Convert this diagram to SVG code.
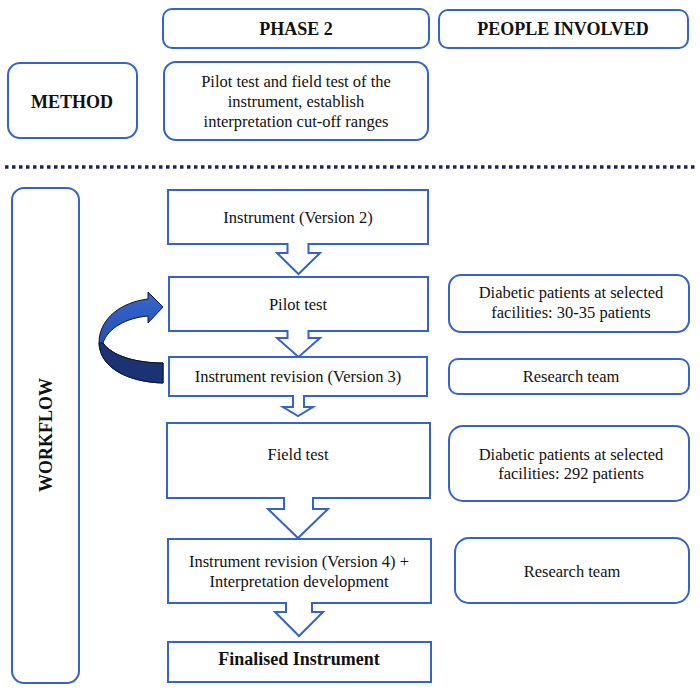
<svg xmlns="http://www.w3.org/2000/svg" width="700" height="691" viewBox="0 0 700 691">
<defs>
<style>
.rb{fill:#fff;stroke:#3464c6;stroke-width:2}
.sb{fill:#fff;stroke:#3464c6;stroke-width:2}
text{font-family:'Liberation Serif','DejaVu Serif',serif}
.t{font-size:16.5px;fill:#111;text-anchor:middle}
.b{font-size:18px;font-weight:bold;fill:#111;text-anchor:middle}
.ar{fill:#fff;stroke:#3464c6;stroke-width:2;stroke-linejoin:miter}
</style>
<linearGradient id="cg" x1="0" y1="0" x2="0" y2="1">
<stop offset="0" stop-color="#3566cf"/>
<stop offset="1" stop-color="#1f3f95"/>
</linearGradient>
</defs>
<rect width="700" height="691" fill="#fff"/>

<g id="phase2"><rect class="rb" x="163" y="9" width="266" height="39" rx="9"/><text class="b" x="296" y="35" font-family="Liberation Serif, serif">PHASE 2</text></g>
<g id="people"><rect class="rb" x="439" y="10" width="249" height="38" rx="9"/><text class="b" x="563" y="35">PEOPLE INVOLVED</text></g>
<g id="method"><rect class="rb" x="8" y="63" width="129" height="75" rx="12"/><text class="b" x="72" y="108">METHOD</text></g>
<g id="method-desc"><rect class="rb" x="164" y="62" width="264" height="78" rx="12"/>
<text class="t" x="296" y="87">Pilot test and field test of the</text>
<text class="t" x="296" y="107">instrument, establish</text>
<text class="t" x="296" y="127">interpretation cut-off ranges</text></g>

<line x1="5" y1="167" x2="697" y2="167" stroke="#1c2550" stroke-width="3.5" stroke-dasharray="3.5 3.5"/>

<g id="workflow"><rect class="rb" x="12" y="188" width="67" height="495" rx="12"/>
<text class="b" transform="translate(52,435) rotate(-90)">WORKFLOW</text></g>

<g id="v2"><rect class="sb" x="168" y="190" width="260" height="54"/><text class="t" x="298" y="223">Instrument (Version 2)</text></g>
<g id="pilot"><rect class="sb" x="169" y="277" width="259" height="54"/><text class="t" x="298" y="310">Pilot test</text></g>
<g id="v3"><rect class="sb" x="169" y="357" width="258" height="39"/><text class="t" x="298" y="382">Instrument revision (Version 3)</text></g>
<g id="field"><rect class="sb" x="167" y="423" width="263" height="75"/><text class="t" x="298" y="460">Field test</text></g>
<g id="v4"><rect class="sb" x="168" y="539" width="263" height="64"/>
<text class="t" x="299" y="567">Instrument revision (Version 4) +</text>
<text class="t" x="299" y="587">Interpretation development</text></g>
<g id="final"><rect class="sb" x="168" y="642" width="263" height="40"/><text class="b" x="299" y="665">Finalised Instrument</text></g>

<g id="people1"><rect class="rb" x="449" y="275" width="240" height="57" rx="12"/>
<text class="t" x="571" y="298">Diabetic patients at selected</text>
<text class="t" x="571" y="318">facilities: 30-35 patients</text></g>
<g id="team1"><rect class="rb" x="449" y="359" width="240" height="35" rx="9"/><text class="t" x="571" y="382">Research team</text></g>
<g id="people2"><rect class="rb" x="449" y="426" width="240" height="75" rx="14"/>
<text class="t" x="571" y="460">Diabetic patients at selected</text>
<text class="t" x="571" y="479">facilities: 292 patients</text></g>
<g id="team2"><rect class="rb" x="455" y="538" width="234" height="65" rx="14"/><text class="t" x="572" y="577">Research team</text></g>

<g id="connectors">
<path class="ar" d="M287.5,243 V253 H277 L298.5,274 L320,253 H308.5 V243"/>
<path class="ar" d="M287.5,330 V338 H277 L298.5,357 L320,338 H308.5 V330"/>
<path class="ar" d="M293,395 V407 H283 L298,416 L313,407 H304 V395"/>
<path class="ar" d="M284,497 V509 H268 L298,538 L328,509 H313 V497"/>
<path class="ar" d="M286,602 V612 H275 L299,636 L323,612 H312 V602"/>
<path d="M163,383 C128,382 100,368 99,343 C99,318 122,302 148,299 L148,292 L163,307 L148,323 L148,316 C126,318 108,328 103,343 C112,356 136,363 163,363 Z" fill="url(#cg)" stroke="#0b1633" stroke-width="1"/>
<path d="M103,343 C112,356 136,363 163,363 L163,383 C128,382 100,368 99,343 Z" fill="#1b3372" stroke="#0b1633" stroke-width="1"/>
</g>
</svg>
